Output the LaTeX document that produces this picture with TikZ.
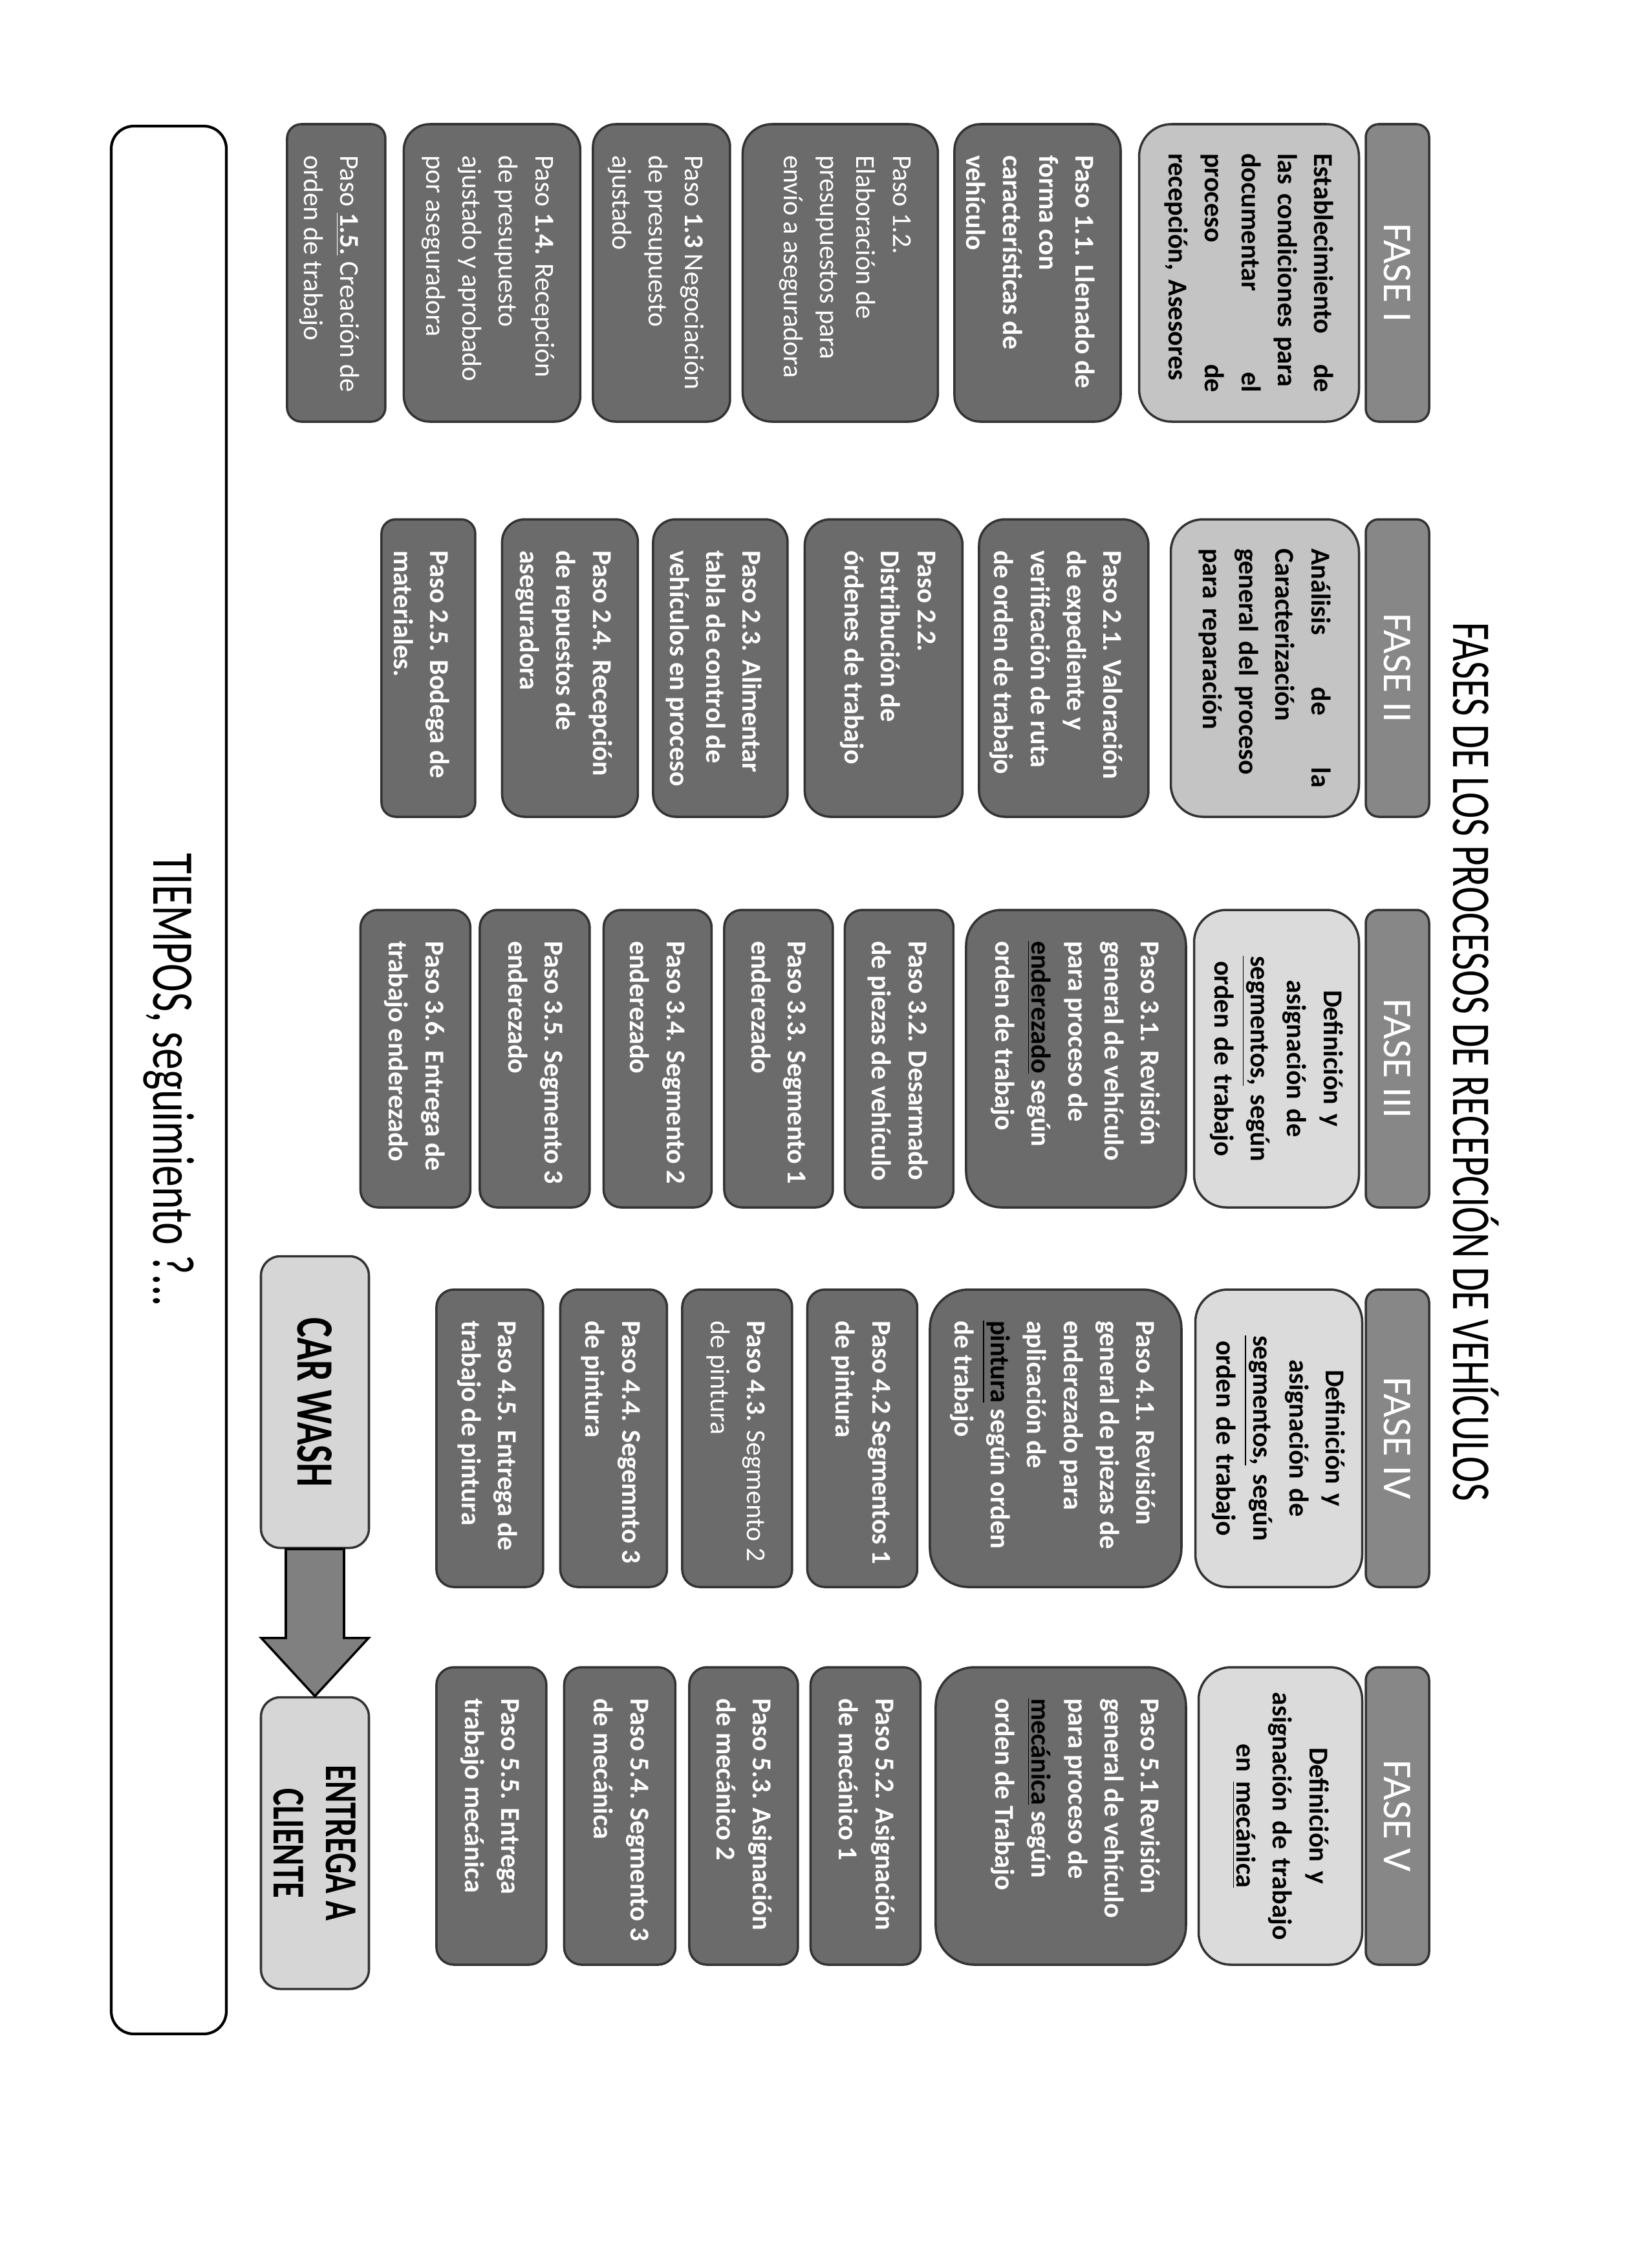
\documentclass[tikz,border=0pt]{standalone}
\usepackage{fontspec}
\setmainfont{Carlito}
\newfontfamily\narrowfont[FakeStretch=0.72]{Carlito}
\usepackage{tikz}
\usetikzlibrary{positioning, calc}

\definecolor{stepgray}{gray}{0.42}
\definecolor{headgray}{gray}{0.53}
\definecolor{descdark}{gray}{0.77}
\definecolor{desclight}{gray}{0.86}
\definecolor{washgray}{gray}{0.84}
\definecolor{arrowgray}{gray}{0.5}

\newcommand{\stepfont}{\fontsize{12}{16}\selectfont\bfseries}
\newcommand{\boxtext}[2]{\parbox[c][\dimexpr#1-0.6cm\relax][t]{3.9cm}{\raggedright\leftskip=0.13cm\strut#2}}

\tikzstyle{titulo} = [font=\narrowfont\fontsize{24}{28}\selectfont]
\tikzstyle{fase} = [rectangle, rounded corners=0.2cm, minimum width=4.6cm, minimum height=0.98cm, draw=black!80, line width=1pt, fill=headgray, text=white, font=\fontsize{18}{20}\selectfont]
\tikzstyle{descbox} = [rectangle, rounded corners=0.5cm, minimum width=4.6cm, text width=3.7cm, inner xsep=0.45cm, draw=black!80, line width=1pt, font=\stepfont]
\tikzstyle{stepbox} = [rectangle, rounded corners=0.3cm, draw=black!80, line width=1pt, fill=stepgray, text=white, font=\stepfont, inner xsep=0.35cm, inner ysep=0.3cm]
\tikzstyle{washbox} = [rectangle, rounded corners=0.3cm, minimum width=4.51cm, minimum height=1.67cm, draw=black!80, line width=1pt, fill=washgray, align=center, font=\narrowfont\bfseries\fontsize{23}{23}\selectfont]
\tikzstyle{bigarrow} = [draw=black, line width=1pt, fill=arrowgray]

\begin{document}
\begin{tikzpicture}[rotate=-90, transform shape, node distance=0.18cm]
    \useasboundingbox (0,0) rectangle (35.07,25.5);

    \node[titulo] (titulo) at (16.42,22.82) {FASES DE LOS PROCESOS DE RECEPCIÓN DE VEHÍCULOS};

    \node[fase] (fase 1) at (4.22,21.61)  {FASE I};
    \node[fase] (fase 2) at (10.33,21.61) {FASE II};
    \node[fase] (fase 3) at (16.37,21.61) {FASE III};
    \node[fase] (fase 4) at (22.24,21.61) {FASE IV};
    \node[fase] (fase 5) at (28.08,21.61) {FASE V};

    \node[descbox, fill=descdark, minimum height=3.4cm, align=left, below=0.07cm of fase 1]   (desc 1)  {Establecimiento\hfill de\\ las condiciones para\\ documentar\hfill el\\ proceso\hfill de\\ recepción, Asesores};
    \node[stepbox, rounded corners=0.4cm, below=0.25cm of desc 1]                            (paso 11) {\boxtext{2.57cm}{Paso 1.1. Llenado de\\ forma con\\ características de\\ vehículo}};
    \node[stepbox, rounded corners=0.45cm, below=0.22cm of paso 11]                          (paso 12) {\boxtext{3.02cm}{\mdseries Paso 1.2.\\ Elaboración de\\ presupuestos para\\ envío a aseguradora}};
    \node[stepbox, rounded corners=0.35cm, below=0.16cm of paso 12]                          (paso 13) {\boxtext{2.12cm}{\mdseries Paso \textbf{1.3} Negociación\\ de presupuesto\\ ajustado}};
    \node[stepbox, rounded corners=0.4cm, below=0.16cm of paso 13]                           (paso 14) {\boxtext{2.73cm}{\mdseries Paso \textbf{1.4.} Recepción\\ de presupuesto\\ ajustado y aprobado\\ por aseguradora}};
    \node[stepbox, rounded corners=0.22cm, below=0.25cm of paso 14]                          (paso 15) {\boxtext{1.52cm}{\mdseries Paso \underline{\textbf{1.5.}} Creación de\\ orden de trabajo}};

    \node[descbox, fill=descdark, minimum height=2.91cm, align=left, below=0.07cm of fase 2]  (desc 2)  {Análisis\hfill de\hfill la\\ Caracterización\\ general del proceso\\ para reparación};
    \node[stepbox, rounded corners=0.4cm, below=0.31cm of desc 2]                            (paso 21) {\boxtext{2.62cm}{Paso 2.1. Valoración\\ de expediente y\\ verificación de ruta\\ de orden de trabajo}};
    \node[stepbox, rounded corners=0.4cm, below=0.22cm of paso 21]                           (paso 22) {\boxtext{2.44cm}{Paso 2.2.\\ Distribución de\\ órdenes de trabajo}};
    \node[stepbox, rounded corners=0.35cm, below=0.23cm of paso 22]                          (paso 23) {\boxtext{2.08cm}{Paso 2.3. Alimentar\\ tabla de control de\\ vehículos en proceso}};
    \node[stepbox, rounded corners=0.35cm, below=0.2cm of paso 23]                           (paso 24) {\boxtext{2.1cm}{Paso 2.4. Recepción\\ de repuestos de\\ aseguradora}};
    \node[stepbox, rounded corners=0.22cm, below=0.38cm of paso 24]                          (paso 25) {\boxtext{1.45cm}{Paso 2.5. Bodega de\\ materiales.}};

    \node[descbox, fill=desclight, minimum height=2.55cm, text width=4cm, inner xsep=0.3cm, align=center, below=0.07cm of fase 3] (desc 3) {Definición y\\ asignación de\\ \underline{segmentos,} según\\ orden de trabajo};
    \node[stepbox, rounded corners=0.55cm, below=0.09cm of desc 3]                           (paso 31) {\boxtext{3.4cm}{Paso 3.1. Revisión\\ general de vehículo\\ para proceso de\\ \textcolor{black}{\underline{enderezado}} según\\ orden de trabajo}};
    \node[stepbox, rounded corners=0.27cm, below=0.16cm of paso 31]                          (paso 32) {\boxtext{1.68cm}{Paso 3.2. Desarmado\\ de piezas de vehículo}};
    \node[stepbox, rounded corners=0.27cm, below=0.15cm of paso 32]                          (paso 33) {\boxtext{1.68cm}{Paso 3.3. Segmento 1\\ enderezado}};
    \node[stepbox, rounded corners=0.27cm, below=0.16cm of paso 33]                          (paso 34) {\boxtext{1.67cm}{Paso 3.4. Segmento 2\\ enderezado}};
    \node[stepbox, rounded corners=0.27cm, below=0.18cm of paso 34]                          (paso 35) {\boxtext{1.7cm}{Paso 3.5. Segmento 3\\ enderezado}};
    \node[stepbox, rounded corners=0.27cm, below=0.11cm of paso 35]                          (paso 36) {\boxtext{1.7cm}{Paso 3.6. Entrega de\\ trabajo enderezado}};

    \node[descbox, fill=desclight, minimum height=2.58cm, text width=4cm, inner xsep=0.3cm, align=center, below=0.02cm of fase 4] (desc 4) {Definición y\\ asignación de\\ \underline{segmentos,} según\\ orden de trabajo};
    \node[stepbox, rounded corners=0.6cm, below=0.18cm of desc 4]                            (paso 41) {\boxtext{3.89cm}{Paso 4.1. Revisión\\ general de piezas de\\ enderezado para\\ aplicación de\\ \textcolor{black}{\underline{pintura}} según orden\\ de trabajo}};
    \node[stepbox, rounded corners=0.27cm, below=0.16cm of paso 41]                          (paso 42) {\boxtext{1.7cm}{Paso 4.2 Segmentos 1\\ de pintura}};
    \node[stepbox, rounded corners=0.27cm, below=0.2cm of paso 42]                           (paso 43) {\boxtext{1.7cm}{Paso 4.3. {\mdseries Segmento 2\\ de pintura}}};
    \node[stepbox, rounded corners=0.27cm, below=0.2cm of paso 43]                           (paso 44) {\boxtext{1.65cm}{Paso 4.4. Segemnto 3\\ de pintura}};
    \node[stepbox, rounded corners=0.27cm, below=0.23cm of paso 44]                          (paso 45) {\boxtext{1.65cm}{Paso 4.5. Entrega de\\ trabajo de pintura}};

    \node[descbox, fill=desclight, minimum height=2.53cm, text width=4cm, inner xsep=0.3cm, align=center, below=0.02cm of fase 5] (desc 5) {Definición y\\ asignación de trabajo\\ en \underline{mecánica}};
    \node[stepbox, rounded corners=0.6cm, below=0.16cm of desc 5]                            (paso 51) {\boxtext{3.87cm}{Paso 5.1 Revisión\\ general de vehículo\\ para proceso de\\ \textcolor{black}{\underline{mecánica}} según\\ orden de Trabajo}};
    \node[stepbox, rounded corners=0.27cm, below=0.2cm of paso 51]                           (paso 52) {\boxtext{1.7cm}{Paso 5.2. Asignación\\ de mecánico 1}};
    \node[stepbox, rounded corners=0.27cm, below=0.16cm of paso 52]                          (paso 53) {\boxtext{1.68cm}{Paso 5.3. Asignación\\ de mecánico 2}};
    \node[stepbox, rounded corners=0.27cm, below=0.18cm of paso 53]                          (paso 54) {\boxtext{1.72cm}{Paso 5.4. Segmento 3\\ de mecánica}};
    \node[stepbox, rounded corners=0.27cm, below=0.24cm of paso 54]                          (paso 55) {\boxtext{1.7cm}{Paso 5.5. Entrega\\ trabajo mecánica}};

    \node[washbox] (lavado)  at (21.68,4.87) {CAR WASH};
    \node[washbox, font=\narrowfont\bfseries\fontsize{20}{23}\selectfont] (entrega) at (28.5,4.87) {ENTREGA A\\ CLIENTE};

    \draw[bigarrow] ($(lavado.east)+(0,0.45)$) -- ($(entrega.west)+(-0.9,0.45)$) -- ($(entrega.west)+(-0.9,0.83)$) -- (entrega.west)
        -- ($(entrega.west)+(-0.9,-0.83)$) -- ($(entrega.west)+(-0.9,-0.45)$) -- ($(lavado.east)+(0,-0.45)$) -- cycle;

    \node[draw, line width=1.2pt, rounded corners=0.35cm, minimum width=29.5cm, minimum height=1.78cm, fill=white,
        font=\narrowfont\fontsize{26}{30}\selectfont] (tiempos) at (16.7,2.61) {TIEMPOS, seguimiento ?...};
\end{tikzpicture}
\end{document}
